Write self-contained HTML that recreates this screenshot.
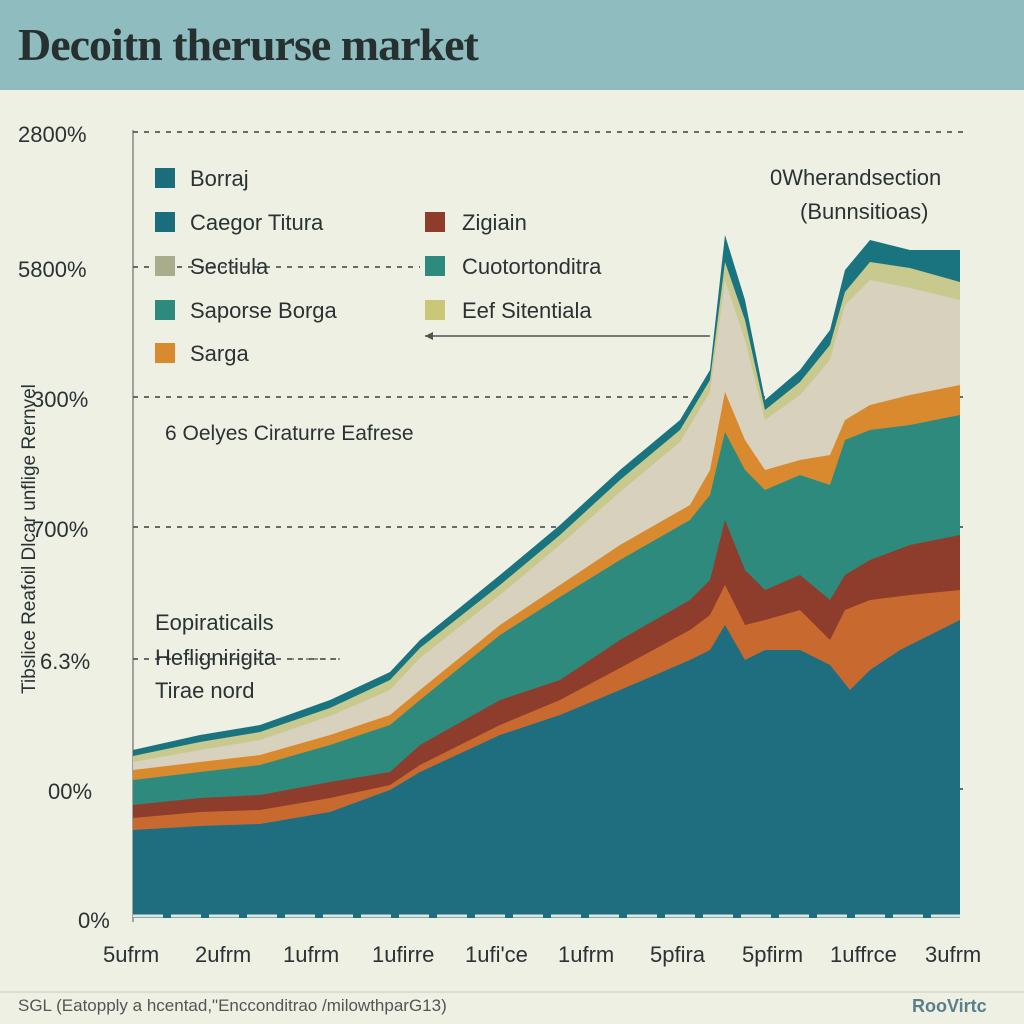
<!DOCTYPE html>
<html><head><meta charset="utf-8"><style>
body{margin:0;width:1024px;height:1024px;background:#eef0e3;font-family:"Liberation Sans",sans-serif;overflow:hidden;position:relative}
.t{position:absolute;white-space:nowrap;color:#2b3233}
</style></head><body>
<div style="position:absolute;left:0;top:0;width:1024px;height:90px;background:#8fbcbe"></div>
<div class="t" style="left:18px;top:18px;font-size:46px;font-family:'Liberation Serif',serif;font-weight:bold;color:#263031;letter-spacing:-1px">Decoitn therurse market</div>
<svg width="1024" height="1024" style="position:absolute;left:0;top:0">
<g stroke="#3a4040" stroke-dasharray="5,6" stroke-width="1.5">
<line x1="133" y1="132" x2="965" y2="132"/><line x1="133" y1="267" x2="420" y2="267"/><line x1="133" y1="397" x2="965" y2="397"/>
<line x1="133" y1="527" x2="965" y2="527"/><line x1="133" y1="659" x2="340" y2="659"/><line x1="133" y1="789" x2="965" y2="789"/>
</g>
<line x1="133" y1="130" x2="133" y2="922" stroke="#555" stroke-width="1"/>
<polygon fill="#1a7480" points="133,750 200,735 260,725 330,700 390,672 420,640 500,575 560,525 620,470 680,420 710,370 725,235 745,300 765,400 800,370 830,330 845,270 870,240 910,250 960,250 960,918 133,918"/>
<polygon fill="#c8c98e" points="133,756 200,742 260,732 330,708 390,680 420,648 500,585 560,535 620,480 680,430 710,380 725,262 745,320 765,410 800,382 830,345 845,292 870,262 910,268 960,282 960,918 133,918"/>
<polygon fill="#d7d1bd" points="133,762 200,750 260,740 330,716 390,690 420,658 500,595 560,545 620,492 680,442 710,392 725,280 745,340 765,420 800,395 830,360 845,305 870,280 910,288 960,300 960,918 133,918"/>
<polygon fill="#d98a2e" points="133,770 200,762 260,755 330,735 390,715 420,690 500,625 560,585 620,545 690,505 710,470 725,392 745,440 765,470 800,460 830,455 845,420 870,405 910,395 960,385 960,918 133,918"/>
<polygon fill="#2d8a7d" points="133,780 200,772 260,765 330,745 390,725 420,700 500,635 560,597 620,560 690,520 710,495 725,432 745,470 765,490 800,475 830,485 845,440 870,430 910,425 960,415 960,918 133,918"/>
<polygon fill="#8e3c2c" points="133,805 200,798 260,795 330,782 390,772 420,745 500,700 560,680 620,640 690,600 710,580 725,520 745,570 765,590 800,575 830,600 845,575 870,560 910,545 960,535 960,918 133,918"/>
<polygon fill="#c86a30" points="133,818 200,812 260,810 330,798 390,785 420,765 500,725 560,700 620,668 690,630 710,615 725,585 745,625 765,620 800,610 830,640 845,610 870,600 910,595 960,590 960,918 133,918"/>
<polygon fill="#1e6e80" points="133,830 200,826 260,824 330,812 390,790 420,772 500,735 560,715 620,690 690,660 710,650 725,625 745,660 765,650 800,650 830,665 850,690 870,670 900,650 960,620 960,918 133,918"/>
<line x1="133" y1="916" x2="960" y2="916" stroke="#dfe6e0" stroke-dasharray="30,8" stroke-width="3"/>
<line x1="425" y1="336" x2="710" y2="336" stroke="#4a5555" stroke-width="1.5"/>
<polygon points="425,336 433,332 433,340" fill="#4a5555"/>
<line x1="290" y1="659" x2="340" y2="659" stroke="#333" stroke-dasharray="4,4"/>
<line x1="0" y1="992" x2="1024" y2="992" stroke="#c8cabd"/>
<rect x="155" y="168" width="20" height="20" fill="#1a6e7c"/>
<rect x="155" y="212" width="20" height="20" fill="#1a6e7c"/>
<rect x="155" y="256" width="20" height="20" fill="#a9ad8b"/>
<rect x="155" y="300" width="20" height="20" fill="#2d8a7d"/>
<rect x="155" y="343" width="20" height="20" fill="#d98a2e"/>
<rect x="425" y="212" width="20" height="20" fill="#8e3c2c"/>
<rect x="425" y="256" width="20" height="20" fill="#2d8a7d"/>
<rect x="425" y="300" width="20" height="20" fill="#c8c878"/>
</svg>
<div class="t" style="left:18px;top:122px;font-size:22px">2800%</div>
<div class="t" style="left:18px;top:257px;font-size:22px">5800%</div>
<div class="t" style="left:32px;top:387px;font-size:22px">300%</div>
<div class="t" style="left:32px;top:517px;font-size:22px">700%</div>
<div class="t" style="left:40px;top:649px;font-size:22px">6.3%</div>
<div class="t" style="left:48px;top:779px;font-size:22px">00%</div>
<div class="t" style="left:78px;top:908px;font-size:22px">0%</div>
<div class="t" style="left:-160px;top:528px;font-size:19px;transform:rotate(-90deg);width:380px;text-align:center">Tibslice Reafoil Dlcar unflige Rernvel</div>
<div class="t" style="left:190px;top:166px;font-size:22px">Borraj</div>
<div class="t" style="left:190px;top:210px;font-size:22px">Caegor Titura</div>
<div class="t" style="left:190px;top:254px;font-size:22px">Sectiula</div>
<div class="t" style="left:190px;top:298px;font-size:22px">Saporse Borga</div>
<div class="t" style="left:190px;top:341px;font-size:22px">Sarga</div>
<div class="t" style="left:462px;top:210px;font-size:22px">Zigiain</div>
<div class="t" style="left:462px;top:254px;font-size:22px">Cuotortonditra</div>
<div class="t" style="left:462px;top:298px;font-size:22px">Eef Sitentiala</div>
<div class="t" style="left:770px;top:165px;font-size:22px">0Wherandsection</div>
<div class="t" style="left:800px;top:199px;font-size:22px">(Bunnsitioas)</div>
<div class="t" style="left:165px;top:422px;font-size:21px">6 Oelyes Ciraturre Eafrese</div>
<div class="t" style="left:155px;top:610px;font-size:22px">Eopiraticails</div>
<div class="t" style="left:155px;top:645px;font-size:22px">Heflignirigita</div>
<div class="t" style="left:155px;top:678px;font-size:22px">Tirae nord</div>
<div class="t" style="left:103px;top:942px;font-size:22px">5ufrm</div>
<div class="t" style="left:195px;top:942px;font-size:22px">2ufrm</div>
<div class="t" style="left:283px;top:942px;font-size:22px">1ufrm</div>
<div class="t" style="left:372px;top:942px;font-size:22px">1ufirre</div>
<div class="t" style="left:465px;top:942px;font-size:22px">1ufi'ce</div>
<div class="t" style="left:558px;top:942px;font-size:22px">1ufrm</div>
<div class="t" style="left:650px;top:942px;font-size:22px">5pfira</div>
<div class="t" style="left:742px;top:942px;font-size:22px">5pfirm</div>
<div class="t" style="left:830px;top:942px;font-size:22px">1uffrce</div>
<div class="t" style="left:925px;top:942px;font-size:22px">3ufrm</div>
<div class="t" style="left:18px;top:996px;font-size:17px;color:#555">SGL (Eatopply a hcentad,"Encconditrao /milowthparG13)</div>
<div class="t" style="left:912px;top:996px;font-size:18px;color:#5a7f8a;font-weight:bold">RooVirtc</div>
</body></html>
